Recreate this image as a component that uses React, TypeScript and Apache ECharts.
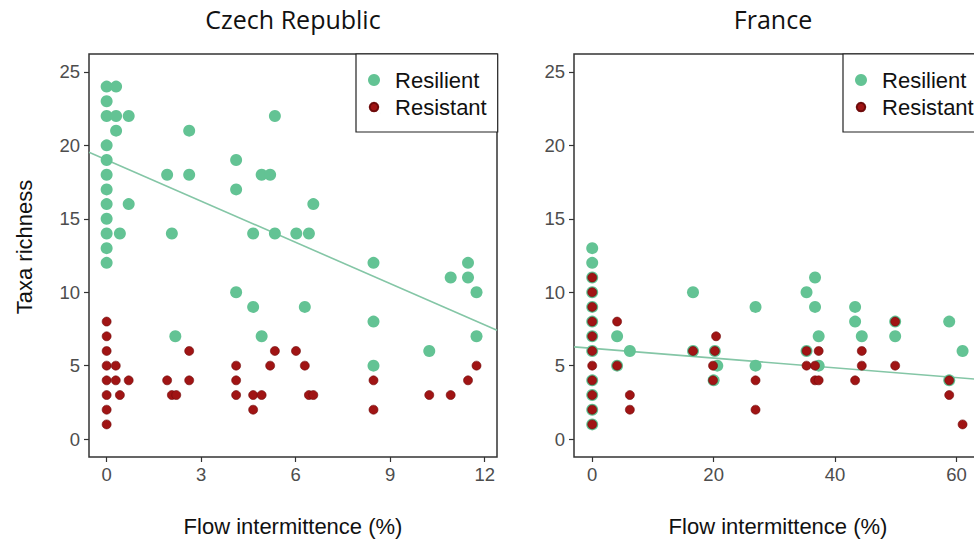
import React, { useEffect, useRef } from 'react';
import * as echarts from 'echarts';

// Czech Republic: [flow intermittence %, taxa richness]
const czechResilient: number[][] = [
  [0, 24], [0, 23], [0, 22], [0, 20], [0, 19], [0, 18], [0, 17], [0, 16], [0, 15], [0, 14], [0, 13], [0, 12],
  [0.3, 24], [0.3, 22], [0.3, 21], [0.42, 14], [0.7, 22], [0.7, 16],
  [1.92, 18], [2.07, 14], [2.18, 7], [2.62, 21], [2.62, 18],
  [4.11, 19], [4.11, 17], [4.11, 10], [4.65, 14], [4.65, 9], [4.92, 18], [4.92, 7],
  [5.19, 18], [5.34, 22], [5.34, 14], [6.02, 14], [6.29, 9], [6.42, 14], [6.56, 16],
  [8.47, 12], [8.47, 8], [8.47, 5], [10.24, 6], [10.92, 11], [11.47, 12], [11.47, 11],
  [11.74, 10], [11.74, 7],
];
const czechResistant: number[][] = [
  [0, 8], [0, 7], [0, 6], [0, 5], [0, 4], [0, 3], [0, 2], [0, 1],
  [0.29, 5], [0.29, 4], [0.42, 3], [0.7, 4],
  [1.92, 4], [2.07, 3], [2.21, 3], [2.62, 6], [2.62, 4],
  [4.11, 5], [4.11, 4], [4.11, 3], [4.65, 3], [4.65, 2], [4.92, 3],
  [5.19, 5], [5.34, 6], [6.01, 6], [6.29, 5], [6.42, 3], [6.56, 3],
  [8.47, 4], [8.47, 2], [10.24, 3], [10.92, 3], [11.47, 4], [11.74, 5],
];
// France
const franceResilient: number[][] = [
  [0, 13], [0, 12], [0, 11], [0, 10], [0, 9], [0, 8], [0, 7], [0, 6], [0, 4], [0, 3], [0, 2], [0, 1],
  [4.1, 7], [4.1, 5], [6.2, 6], [16.6, 10], [16.6, 6],
  [20.2, 6], [20.6, 5], [20, 4], [26.9, 9], [26.9, 5],
  [35.3, 10], [35.3, 6], [36.7, 11], [36.7, 9], [37.3, 7], [37.3, 5],
  [43.3, 9], [43.3, 8], [44.4, 7], [49.9, 8], [49.9, 7], [58.8, 8], [58.8, 4], [61, 6],
];
const franceResistant: number[][] = [
  [0, 11], [0, 10], [0, 9], [0, 8], [0, 7], [0, 6], [0, 5], [0, 4], [0, 3], [0, 2], [0, 1],
  [4.1, 8], [4.1, 5], [6.2, 3], [6.2, 2], [16.6, 6],
  [20.4, 7], [20.2, 6], [19.9, 5], [19.9, 4], [26.9, 4], [26.9, 2],
  [35.3, 6], [35.3, 5], [36.7, 5], [36.7, 4], [37.3, 6], [37.3, 4],
  [43.3, 4], [44.4, 6], [44.4, 5], [49.9, 8], [49.9, 5], [58.8, 4], [58.8, 3], [61, 1],
];

// linear fits: [intercept, slope]
const czechFit = [19.01, -0.936];
const franceFit = [6.18, -0.0332];

const panelTitles = ['Czech Republic', 'France'];
const yTicks = [0, 5, 10, 15, 20, 25];
const czechXTicks = [0, 3, 6, 9, 12];
const franceXTicks = [0, 20, 40, 60];
const yRange = [-1.22, 26.22];
const czechXRange = [-0.56, 12.39];
const franceXRange = [-3.0, 64.2];
const seriesNames = ['Resilient', 'Resistant'];
const xTitle = 'Flow intermittence (%)';
const yTitle = 'Taxa richness';

const GREEN = '#63C394';
const RED = '#A01414';
const FIT = '#84C6A6';
const SANS = 'Liberation Sans, Arial, sans-serif';

const fitLine = (fit: number[], range: number[]) =>
  range.map((x) => [x, fit[0] + fit[1] * x]);

export default function App() {
  const ref = useRef<HTMLDivElement>(null);
  useEffect(() => {
    const chart = echarts.init(ref.current!, null, { renderer: 'svg' });
    const xAxisBase = (idx: number, range: number[], ticks: number[]) => ({
      type: 'value',
      gridIndex: idx,
      position: 'bottom',
      min: range[0],
      max: range[1],
      name: xTitle,
      nameLocation: 'middle',
      nameGap: 58,
      nameTextStyle: { fontFamily: SANS, fontSize: 22, color: '#111' },
      axisLine: { show: false, onZero: false },
      splitLine: { show: false },
      axisTick: { show: true, length: 5, customValues: ticks, lineStyle: { color: '#333', width: 1.2 } },
      axisLabel: { customValues: ticks, fontFamily: SANS, fontSize: 18.5, color: '#4D4D4D', margin: 8 },
    });
    const yAxisBase = (idx: number, withName: boolean) => ({
      type: 'value',
      gridIndex: idx,
      position: 'left',
      min: yRange[0],
      max: yRange[1],
      name: withName ? yTitle : '',
      nameLocation: 'middle',
      nameGap: 54,
      nameRotate: 90,
      nameTextStyle: { fontFamily: SANS, fontSize: 22, color: '#111', padding: [0, 0, 0, 17] },
      axisLine: { show: false, onZero: false },
      splitLine: { show: false },
      axisTick: { show: true, length: 5, customValues: yTicks, lineStyle: { color: '#333', width: 1.2 } },
      axisLabel: { customValues: yTicks, fontFamily: SANS, fontSize: 18.5, color: '#4D4D4D', margin: 9 },
    });
    const legendBase = (left: number) => ({
      orient: 'vertical',
      left,
      top: 54,
      padding: [15, 11, 14, 11],
      itemWidth: 32,
      itemHeight: 12,
      itemGap: 5,
      backgroundColor: '#fff',
      borderColor: '#222',
      borderWidth: 1.2,
      textStyle: { fontFamily: SANS, fontSize: 22, color: '#111', lineHeight: 22 },
      data: [
        { name: seriesNames[0], icon: 'circle' },
        { name: seriesNames[1], icon: 'path://M0 0L0.01 0Z M12 12L12.01 12Z M6 1.75A4.25 4.25 0 1 1 5.99 1.75Z' },
      ],
      selectedMode: false,
    });
    const scatter = (name: string, idx: number, data: number[][], isRed: boolean) => ({
      type: 'scatter',
      name,
      xAxisIndex: idx,
      yAxisIndex: idx,
      data,
      symbol: 'circle',
      symbolSize: isRed ? 9 : 12,
      itemStyle: isRed
        ? { color: RED, borderColor: '#6E0B0B', borderWidth: 0.6, opacity: 1 }
        : { color: GREEN, opacity: 1 },
      z: isRed ? 4 : 3,
    });
    const line = (idx: number, fit: number[], range: number[]) => ({
      type: 'line',
      name: 'fit' + idx,
      xAxisIndex: idx,
      yAxisIndex: idx,
      data: fitLine(fit, range),
      showSymbol: false,
      symbol: 'none',
      lineStyle: { color: FIT, width: 1.6 },
      z: 2,
    });
    chart.setOption({
      animation: false,
      backgroundColor: '#fff',
      title: [
        { text: panelTitles[0], left: 293, top: 6, textAlign: 'center', padding: 0,
          textStyle: { fontFamily: 'Open Sans, Noto Sans, sans-serif', fontSize: 25, fontWeight: 'normal', color: '#111' } },
        { text: panelTitles[1], left: 773, top: 6, textAlign: 'center', padding: 0,
          textStyle: { fontFamily: 'Open Sans, Noto Sans, sans-serif', fontSize: 25, fontWeight: 'normal', color: '#111' } },
      ],
      legend: [legendBase(356), legendBase(843)],
      grid: [
        { left: 89, top: 54, width: 408, height: 405, show: true, borderColor: '#333', borderWidth: 1.5, backgroundColor: 'transparent' },
        { left: 574, top: 54, width: 408, height: 405, show: true, borderColor: '#333', borderWidth: 1.5, backgroundColor: 'transparent' },
      ],
      xAxis: [xAxisBase(0, czechXRange, czechXTicks), xAxisBase(1, franceXRange, franceXTicks)],
      yAxis: [yAxisBase(0, true), yAxisBase(1, false)],
      series: [
        line(0, czechFit, czechXRange),
        line(1, franceFit, franceXRange),
        scatter(seriesNames[0], 0, czechResilient, false),
        scatter(seriesNames[1], 0, czechResistant, true),
        scatter(seriesNames[0], 1, franceResilient, false),
        scatter(seriesNames[1], 1, franceResistant, true),
      ],
    });
    return () => chart.dispose();
  }, []);
  return (
    <div style={{ position: 'fixed', left: 0, top: 0, width: 974, height: 542, overflow: 'hidden', background: '#fff' }}>
      <div ref={ref} style={{ width: 1000, height: 542 }} />
    </div>
  );
}
